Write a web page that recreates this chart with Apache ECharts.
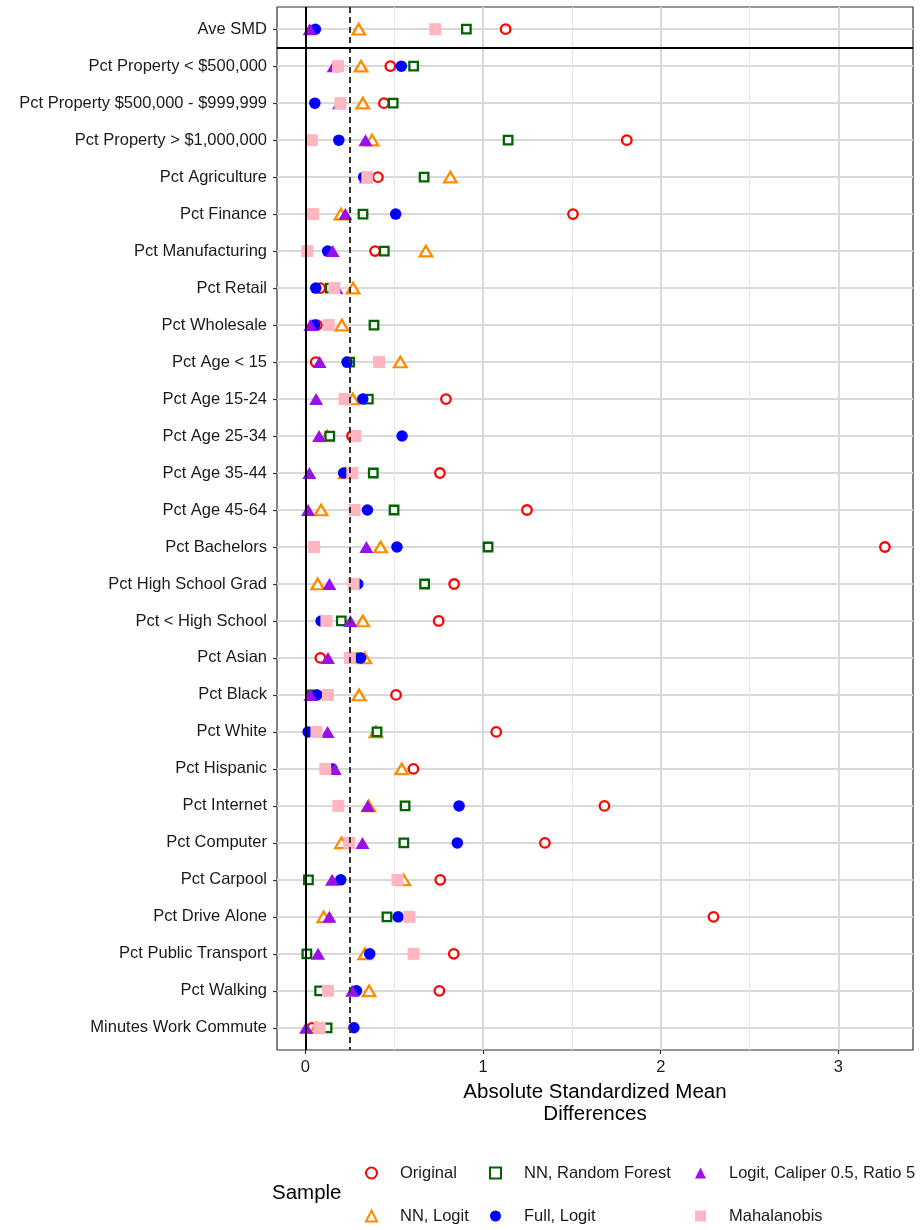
<!DOCTYPE html>
<html>
<head>
<meta charset="utf-8">
<title>Covariate balance</title>
<script src="https://cdn.jsdelivr.net/npm/echarts@6/dist/echarts.min.js"></script>
<style>
  html, body { margin: 0; padding: 0; background: #ffffff; }
  #chart { width: 922px; height: 1230px; }
</style>
</head>
<body>
<div id="chart"></div>
<script>
// Covariates, top to bottom
const covariates = [
  'Ave SMD',
  'Pct Property < $500,000',
  'Pct Property $500,000 - $999,999',
  'Pct Property > $1,000,000',
  'Pct Agriculture',
  'Pct Finance',
  'Pct Manufacturing',
  'Pct Retail',
  'Pct Wholesale',
  'Pct Age < 15',
  'Pct Age 15-24',
  'Pct Age 25-34',
  'Pct Age 35-44',
  'Pct Age 45-64',
  'Pct Bachelors',
  'Pct High School Grad',
  'Pct < High School',
  'Pct Asian',
  'Pct Black',
  'Pct White',
  'Pct Hispanic',
  'Pct Internet',
  'Pct Computer',
  'Pct Carpool',
  'Pct Drive Alone',
  'Pct Public Transport',
  'Pct Walking',
  'Minutes Work Commute'
];

// Absolute standardized mean differences per sample
const original  = [1.127,0.478,0.442,1.809,0.408,1.506,0.392,0.084,0.065,0.058,0.791,0.262,0.757,1.247,3.262,0.837,0.750,0.084,0.510,1.074,0.608,1.683,1.348,0.759,2.297,0.835,0.754,0.037];
const nnLogit   = [0.300,0.313,0.323,0.375,0.816,0.200,0.678,0.268,0.205,0.534,0.266,0.122,0.226,0.088,0.423,0.069,0.323,0.334,0.302,0.397,0.542,0.356,0.203,0.553,0.103,0.334,0.358,0.062];
const nnForest  = [0.906,0.609,0.494,1.141,0.668,0.324,0.444,0.140,0.386,0.249,0.354,0.137,0.382,0.499,1.028,0.671,0.202,0.290,0.040,0.403,0.120,0.561,0.554,0.017,0.459,0.008,0.080,0.122];
const fullLogit = [0.056,0.540,0.053,0.188,0.328,0.508,0.125,0.058,0.052,0.234,0.323,0.544,0.215,0.349,0.515,0.295,0.088,0.311,0.065,0.015,0.150,0.865,0.855,0.199,0.522,0.362,0.287,0.273];
const caliper   = [0.024,0.159,0.190,0.338,0.341,0.225,0.153,0.174,0.028,0.080,0.060,0.077,0.022,0.015,0.343,0.135,0.253,0.127,0.028,0.125,0.165,0.351,0.321,0.150,0.135,0.071,0.263,0.004];
const mahal     = [0.731,0.184,0.197,0.036,0.348,0.043,0.011,0.163,0.131,0.414,0.220,0.281,0.264,0.277,0.049,0.271,0.118,0.250,0.127,0.062,0.112,0.185,0.246,0.518,0.585,0.609,0.127,0.080];

// Axis ticks and reference lines
const xTicks = [0, 1, 2, 3];
const xMinorTicks = [0.5, 1.5, 2.5];
const threshold = 0.25;
const summaryDivider = 0.5;

const FONT = '"Liberation Sans", Arial, Helvetica, sans-serif';
const yIndex = covariates.map((_, i) => i);

function pts(values) {
  return values.map((v, i) => [v, i]);
}

const hollow = (color) => ({ color: '#ffffff', borderColor: color, borderWidth: 2.3, opacity: 1 });
const filled = (color) => ({ color: color, borderWidth: 0, opacity: 1 });

const samples = [
  { name: 'Original', values: original, symbol: 'circle', size: 9.5, style: hollow('#FF0000') },
  { name: 'NN, Logit', values: nnLogit, symbol: 'triangle', size: [12.5, 10.5], style: hollow('#FF8C00') },
  { name: 'NN, Random Forest', values: nnForest, symbol: 'rect', size: 8.5, style: hollow('#006400') },
  { name: 'Full, Logit', values: fullLogit, symbol: 'circle', size: 11.5, style: filled('#0000FF') },
  { name: 'Logit, Caliper 0.5, Ratio 5', values: caliper, symbol: 'triangle', size: [14, 12], style: filled('#9A10EA') },
  { name: 'Mahalanobis', values: mahal, symbol: 'rect', size: 12, style: filled('#FFB6C1') }
];

const series = [
  {
    name: 'refs',
    type: 'scatter',
    data: [],
    z: 1,
    silent: true,
    markLine: {
      silent: true,
      symbol: ['none', 'none'],
      animation: false,
      label: { show: false },
      data: [
        { xAxis: 0, lineStyle: { color: '#000000', width: 2, type: 'solid' } },
        { xAxis: threshold, lineStyle: { color: '#333333', width: 2, type: [6, 4] } },
        { yAxis: summaryDivider, lineStyle: { color: '#000000', width: 1.8, type: 'solid' } }
      ]
    }
  }
].concat(samples.map(s => ({
  name: s.name,
  type: 'scatter',
  z: 3,
  symbol: s.symbol,
  symbolSize: s.size,
  itemStyle: s.style,
  emphasis: { disabled: true },
  data: pts(s.values)
})));

const legendText = { fontFamily: FONT, fontSize: 16.5, color: '#1a1a1a', lineHeight: 20, padding: [0, 0, 0, 18] };
const legendBase = {
  orient: 'vertical',
  top: 1163,
  padding: 0,
  itemGap: 23,
  itemWidth: 11,
  itemHeight: 11,
  symbolKeepAspect: true,
  selectedMode: false,
  textStyle: legendText
};

const option = {
  animation: false,
  backgroundColor: '#ffffff',
  title: {
    text: 'Sample',
    left: 272,
    top: 1183,
    padding: 0,
    textStyle: { fontFamily: FONT, fontSize: 20.5, fontWeight: 'normal', color: '#000000' }
  },
  legend: [
    Object.assign({}, legendBase, { left: 365, data: ['Original', 'NN, Logit'] }),
    Object.assign({}, legendBase, { left: 489, data: ['NN, Random Forest', 'Full, Logit'] }),
    Object.assign({}, legendBase, { left: 695, data: ['Logit, Caliper 0.5, Ratio 5', 'Mahalanobis'] })
  ],
  grid: {
    left: 277,
    top: 7,
    width: 636,
    height: 1043,
    show: true,
    borderColor: '#333333',
    borderWidth: 1.2,
    backgroundColor: 'transparent',
    containLabel: false
  },
  xAxis: [
    {
      type: 'value',
      min: -0.16,
      max: 3.42,
      axisLine: { show: false, onZero: false },
      axisTick: { show: true, length: 4, customValues: xTicks, lineStyle: { color: '#333333', width: 1.2 } },
      axisLabel: {
        customValues: xTicks,
        margin: 9,
        fontFamily: FONT,
        fontSize: 16.5,
        color: '#1a1a1a'
      },
      splitLine: { show: true, lineStyle: { color: '#D9D9D9', width: 2 } },
      name: 'Absolute Standardized Mean\nDifferences',
      nameLocation: 'middle',
      nameGap: 29,
      nameTextStyle: { fontFamily: FONT, fontSize: 20.5, color: '#000000', lineHeight: 22 }
    },
    {
      type: 'value',
      min: -0.16,
      max: 3.42,
      axisLine: { show: false, onZero: false },
      axisTick: { show: false, customValues: xMinorTicks },
      axisLabel: { show: false, customValues: xMinorTicks },
      splitLine: { show: true, lineStyle: { color: '#E6E6E6', width: 1 } }
    }
  ],
  yAxis: {
    type: 'value',
    inverse: true,
    min: -0.6,
    max: 27.6,
    axisLine: { show: false, onZero: false },
    axisTick: { show: true, length: 4, customValues: yIndex, lineStyle: { color: '#333333', width: 1.2 } },
    axisLabel: {
      customValues: yIndex,
      margin: 10,
      fontFamily: FONT,
      fontSize: 16.5,
      color: '#1a1a1a',
      formatter: (v) => covariates[Math.round(v)]
    },
    splitLine: { show: true, lineStyle: { color: '#D9D9D9', width: 2 } }
  },
  series: series
};

const chart = echarts.init(document.getElementById('chart'), null, { renderer: 'canvas' });
chart.setOption(option);
</script>
</body>
</html>
